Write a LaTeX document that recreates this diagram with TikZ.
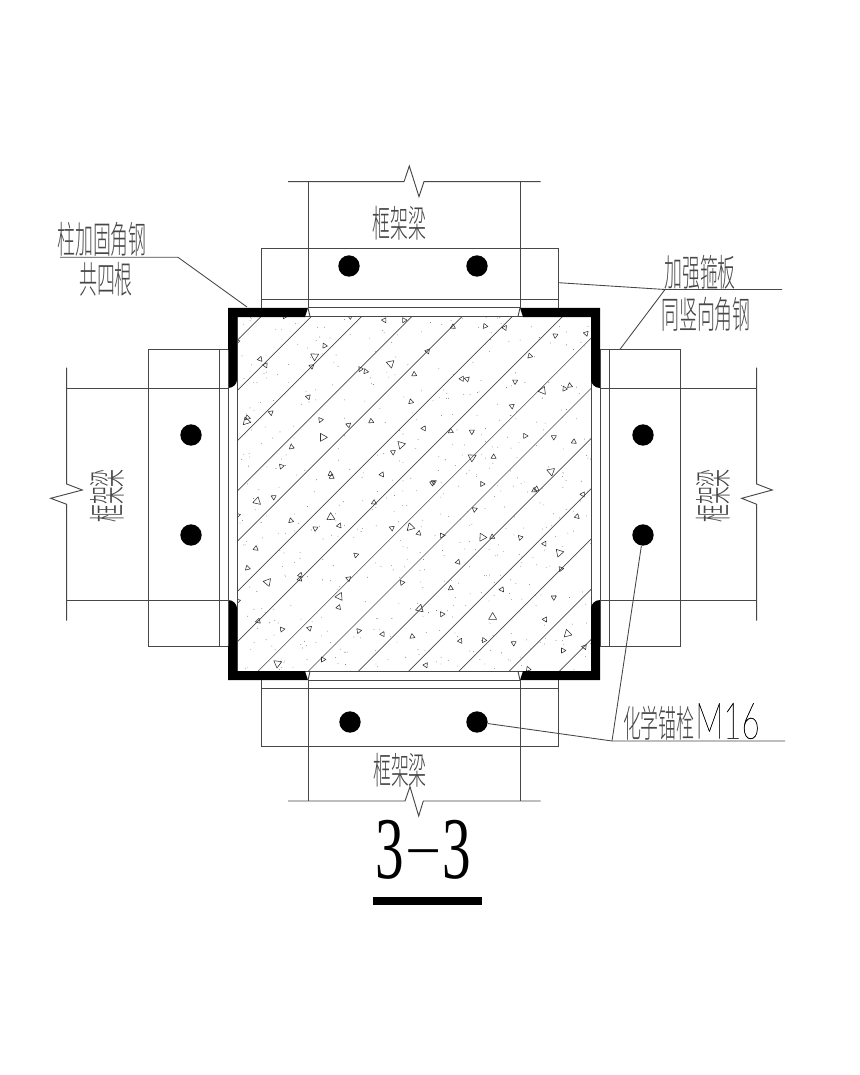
\documentclass[tikz,border=0pt]{standalone}
\usepackage{fontspec}
\usepackage{tikz}
\usetikzlibrary{arrows}
\IfFontExistsTF{Noto Sans CJK SC Light}
  {\newfontfamily\cadcjk[FakeStretch=.48]{Noto Sans CJK SC Light}}
  {\newfontfamily\cadcjk[FakeStretch=.48]{Noto Sans CJK SC}}
\IfFontExistsTF{Lato Thin}
  {\newfontfamily\cadlat[FakeStretch=.62,FakeBold=.4]{Lato Thin}}
  {\newfontfamily\cadlat[FakeStretch=.62,FakeBold=.4]{Lato Hairline}}
\newfontfamily\cadnum[FakeStretch=.65]{Liberation Serif}
\definecolor{cadline}{gray}{0.28}
\tikzset{
  cadedge/.style={draw=cadline,line width=.7pt},
  hatchline/.style={draw=cadline,line width=.5pt},
  leaderline/.style={draw=cadline,line width=.65pt},
  aggr/.style={draw=black!80,line width=.42pt,line join=round},
  bolt/.style={circle,fill=black,inner sep=0pt,minimum size=16pt},
  beamtext/.style={inner sep=0pt,text=black!72,font=\cadcjk\fontsize{28}{28}\selectfont},
}
\begin{document}
\begin{tikzpicture}[x=.75pt,y=-.75pt]
\useasboundingbox (0,0) rectangle (860,1075);

% concrete: hatch, speckle and aggregate
\begin{scope}
\clip (237.4,316.7) rectangle (591.4,671.3);
\foreach \k in {0,...,13}
  \draw[hatchline] ({577.7+50.22*\k-300},300) -- ({577.7+50.22*\k-700},700);
\pgfmathsetseed{33}
\foreach \i in {1,...,520}
  \fill[black!60] ({237.4+354*rnd},{316.7+354.6*rnd}) circle[radius=.42];
\begin{scope}[shift={(230,310)},x=.25pt,y=-.25pt]
\foreach \x/\y/\r in {25/97/9,90/152/9,105/170/9,160/20/9,252/132/14,285/103/9,243/165/9,365/20/9,462/35/9,518/32/9,672/47/9,768/52/9,823/58/9,975/72/9,1073/70/9,590/120/9,395/180/9,410/188/9,478/167/14,548/192/9,895/138/9,232/257/9,120/312/9,55/327/9,53/340/14,272/325/9,360/345/9,425/338/9,538/275/9,280/375/14,578/352/9,665/360/9,730/366/9,843/292/9,852/218/9,932/238/14,1005/232/9,1022/223/9,700/205/9,716/207/9,881/379/9,970/377/9,1035/392/9,180/411/9,150/471/9,507/408/14,486/430/9,733/444/14,792/445/9,960/478/14,304/488/9,308/497/9,455/498/9,610/512/9,605/515/9,760/525/9,915/535/9,908/540/9,1063/552/9,128/565/9,82/581/14,433/582/9,738/600/9,27/618/9,307/616/14,178/632/9,1045/617/9,255/651/9,332/645/9,483/658/9,534/652/14,562/668/9,637/672/9,762/687/14,788/685/9,867/685/9,940/698/9,988/721/14,78/720/9,382/737/9,688/754/9,55/778/9,993/772/9,207/793/9,205/805/9,110/823/14,360/806/9,512/820/9,665/831/9,815/843/9,970/858/9,335/857/14,27/875/9,330/890/9,563/893/14,637/908/9,790/928/14,942/925/9,85/938/9,152/960/9,236/951/9,390/965/9,457/977/9,542/979/9,695/991/9,765/994/9,848/1003/9,1016/965/14,1000/1017/9,1068/1010/9,137/1065/14,280/1044/9,584/1062/9,890/1078/9}
  \draw[aggr] (\x,\y) ++({110+\x}:\r) -- ++({230+\x}:{1.7*\r}) -- ++({350+\x}:{1.7*\r}) -- cycle;
\end{scope}
\end{scope}
\draw[cadedge] (237.4,316.7) rectangle (591.4,671.3);

% corner angles
\foreach \sx in {-1,1}
  \foreach \sy in {-1,1}
    \fill[black,shift={(414,494)},xscale=\sx,yscale=\sy]
      (-186,-186.2) -- (-106,-186.2) -- (-109,-177) -- (-177,-177) -- (-177,-114)
      .. controls (-177,-110) and (-181,-106) .. (-186,-106) -- cycle;

% top beam
\draw[cadedge] (288,181.7) -- (404,181.7) -- (409.3,166) -- (419,196.7) -- (424,181.7) -- (540.5,181.7);
\draw[cadedge] (308,181.7) -- (308,307.8) (520,181.7) -- (520,307.8);
\draw[cadedge] (261.7,307.8) |- (558.7,248.3) -- (558.7,307.8);
\draw[cadedge] (261.7,299.3) -- (558.7,299.3);
\draw[cadedge] (308,307.8) -- (520,307.8);
\draw[cadedge] (308,307.8) -- (310,316.7) (520,307.8) -- (518,316.7);

% bottom beam
\draw[cadedge] (288,801) -- (405,801) -- (410,786.7) -- (418.7,816) -- (423.3,801) -- (540.5,801);
\draw[cadedge] (308,680.2) -- (308,801) (520,680.2) -- (520,801);
\draw[cadedge] (261.7,680.2) |- (558.7,746) -- (558.7,680.2);
\draw[cadedge] (261.7,688.6) -- (558.7,688.6);
\draw[cadedge] (308,680.2) -- (520,680.2);
\draw[cadedge] (308,680.2) -- (310,671.3) (520,680.2) -- (518,671.3);

% left beam
\draw[cadedge] (66.7,367.7) -- (66.7,484) -- (82.3,490) -- (50.7,498.3) -- (66.7,504.3) -- (66.7,620.7);
\draw[cadedge] (66.7,388) -- (228,388) (66.7,600) -- (228,600);
\draw[cadedge] (228,349.7) -| (148.7,646.3) -- (228,646.3);
\draw[cadedge] (219.3,349.7) -- (219.3,646.3);
\draw[cadedge] (228,349.7) -- (228,646.3);

% right beam
\draw[cadedge] (756.7,367.7) -- (756.7,484) -- (772.3,490) -- (741.7,498.3) -- (756.7,504.3) -- (756.7,620.7);
\draw[cadedge] (600,388) -- (756.7,388) (600,600) -- (756.7,600);
\draw[cadedge] (600,349.7) -| (680.3,646.3) -- (600,646.3);
\draw[cadedge] (609,349.7) -- (609,646.3);
\draw[cadedge] (600,349.7) -- (600,646.3);

% anchor bolts
\node[bolt] (boltTL) at (349,266) {};
\node[bolt] (boltTR) at (477,266) {};
\node[bolt] (boltLT) at (191,435) {};
\node[bolt] (boltLB) at (191,535) {};
\node[bolt] (boltRT) at (643,435) {};
\node[bolt] (boltRB) at (643,535) {};
\node[bolt] (boltBL) at (350,722) {};
\node[bolt] (boltBR) at (477,722) {};

% labels
\node[beamtext] (beamT) at (399.5,223) {框架梁};
\node[beamtext] (beamB) at (400,770) {框架梁};
\node[beamtext,rotate=90] (beamL) at (107,496) {框架梁};
\node[beamtext,rotate=90] (beamR) at (713,496) {框架梁};
\node[beamtext] (angleA) at (102,239) {柱加固角钢};
\node[beamtext] (angleB) at (106,279) {共四根};
\node[beamtext] (hoopA) at (700,272) {加强箍板};
\node[beamtext] (hoopB) at (706,314) {同竖向角钢};
\node[beamtext,anchor=east] (anchorA) at (695,723) {化学锚栓};
\node[inner sep=0pt,text=black,anchor=west,font=\cadlat\fontsize{38}{38}\selectfont] (anchorB) at (695,721) {M16};
\node[inner sep=0pt,font=\cadnum\fontsize{66}{66}\selectfont] (title) at (423.5,850) {3\raisebox{14pt}{\scalebox{2}[.45]{-}}3};
\fill[black] (372.7,897.3) rectangle (481.7,905);

% leaders
\coordinate (angleEnd) at (247,307);
\coordinate (angleKnee) at (178,257.3);
\coordinate (angleTail) at (60,257.3);
\draw[leaderline] (angleTail) -- (angleKnee) -- (angleEnd);
\coordinate (hoopEnd) at (558.7,282.7);
\coordinate (hoopKnee) at (665,289.5);
\coordinate (hoopTail) at (782,289.5);
\coordinate (hoopFoot) at (619.7,349.7);
\draw[leaderline] (hoopEnd) -- (hoopKnee) -- (hoopTail);
\draw[leaderline] (hoopKnee) -- (hoopFoot);
\coordinate (boltKnee) at (612,741);
\coordinate (boltTail) at (785,741);
\draw[leaderline] (boltBR) -- (boltKnee) -- (boltTail);
\draw[leaderline] (boltKnee) -- (boltRB);
\end{tikzpicture}
\end{document}
